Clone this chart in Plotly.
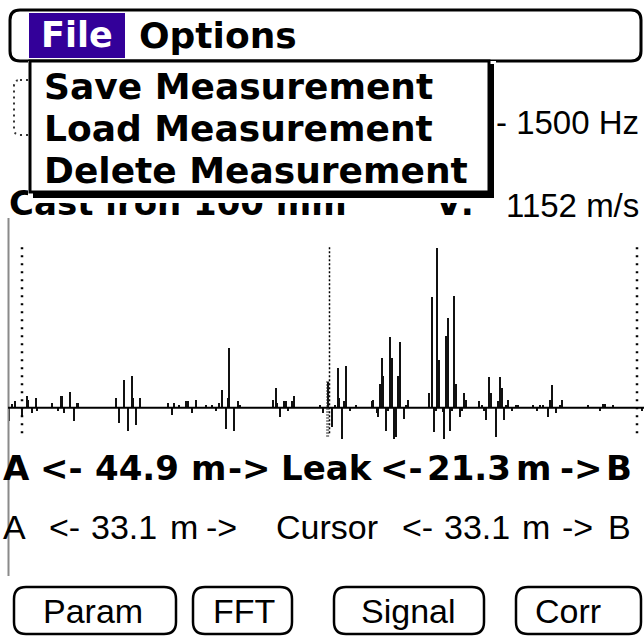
import plotly.graph_objects as go

# Leak correlator screen: correlation peaks along the pipe between sensors A and B.
# Position in metres from sensor A, amplitude in % of the strongest peak.
stem_pos_m = [
    -1.37, -1.08, -0.75, -0.03, 0.51, 0.65, 1.04, 1.47, 1.65, 3.20,
    3.91, 4.17, 4.31, 4.52, 5.17, 5.60, 5.89, 6.06, 10.09, 10.47,
    10.98, 11.38, 11.81, 11.98, 12.27, 12.70, 15.68, 16.11, 16.36, 16.93,
    17.62, 17.84, 18.27, 18.70, 19.81, 20.42, 20.88, 21.21, 21.50, 21.93,
    22.21, 22.31, 22.82, 23.22, 23.47, 26.99, 27.31, 27.48, 27.77, 28.20,
    28.42, 28.67, 29.10, 29.28, 32.08, 32.43, 32.94, 33.34, 33.69, 33.98,
    34.16, 34.41, 34.69, 34.88, 35.31, 35.95, 37.64, 37.81, 38.18, 38.35,
    38.54, 38.72, 38.89, 39.15, 39.36, 39.61, 39.80, 40.04, 40.26, 40.51,
    40.69, 41.12, 41.33, 41.58, 43.84, 44.10, 44.38, 44.53, 44.70, 44.92,
    45.29, 45.43, 45.61, 45.82, 46.07, 46.25, 46.50, 46.68, 47.15, 47.33,
    47.58, 47.79, 49.23, 49.48, 49.73, 49.91, 50.30, 50.48, 50.99, 51.27,
    51.45, 51.64, 51.88, 52.10, 52.35, 52.71, 53.18, 53.42, 55.04, 55.47,
    55.76, 56.05, 56.59, 56.84, 57.08, 57.45, 57.91, 58.16, 60.89, 62.22,
    62.51, 62.76, 63.65, 66.71,
]
stem_amp = [
    -8, 2.5, 4, -6, 7.5, 5, -3, 6, -2, 3,
    -2, 7.5, 7.5, -3, 10, -8, 3, 3, 6, -9.5,
    17.5, -14.5, 20, 6, -10.5, 6, 3, -4.5, 3, 1.5,
    4, 4, -3, 5, 1.5, 1.5, -2, 3, 11, -13,
    6, 37.5, -14.5, 4, 1.5, 5, 12.5, 3, -5.5, 4,
    4, -2, 4, 7.5, 2, -3, 16, -12, 1.5, 25,
    6, -19.5, 4, 26, -2, 1.5, 4, 5, -3, -6,
    15, 31, 20, -14.5, -2, 44, 31, -19.5, -18, 20,
    41, -7, 1.5, 5, 9, 69, -15, -2, 100, 30,
    -2.5, -19.5, 45, 56, -14.5, -2, 70, 15, -5.5, -2,
    9, 5, 4, 1.5, -2, -7.5, 19, 9, -18, 4,
    19, 12.5, -7.5, 1.5, 5, -2, 1.5, 1.5, 1.5, -2,
    1.5, 1.5, -5.5, 5, 14, -3, 1.5, 5, 1.5, -2,
    2.5, 2.5, 1.5, -2,
]

PIPE_NAME = "Cast iron 100 mm"
FREQ_HI_HZ = 1500
VELOCITY_MS = 1152
PIPE_LEN_M = 66.2
LEAK_FROM_A = 44.9
LEAK_FROM_B = 21.3
CURSOR_FROM_A = 33.1
CURSOR_FROM_B = 33.1

menu_titles = ["File", "Options"]
menu_items = ["Save Measurement", "Load Measurement", "Delete Measurement"]
button_labels = ["Param", "FFT", "Signal", "Corr"]

W, H = 644, 640
X_RANGE = [-2.368, 66.953]   # metres across the full screen width
Y_RANGE = [-145.19, 254.81]  # amplitude across the full screen height
BOLD = "DejaVu Sans"
PLAIN = "Liberation Sans, Arial, sans-serif"


def rrect(x0, y0, x1, y1, r):
    return (f"M{x0 + r},{y0} L{x1 - r},{y0} Q{x1},{y0} {x1},{y0 + r} "
            f"L{x1},{y1 - r} Q{x1},{y1} {x1 - r},{y1} L{x0 + r},{y1} "
            f"Q{x0},{y1} {x0},{y1 - r} L{x0},{y0 + r} Q{x0},{y0} {x0 + r},{y0} Z")


def px_shape(**kw):
    return dict(xref="x2", yref="y2", layer="above", **kw)


def label(text, x, y, size, bold=False, color="black", anchor="center"):
    return dict(text=f"<b>{text}</b>" if bold else text, x=x, y=y,
                xref="x2", yref="y2", xanchor=anchor, yanchor="middle",
                showarrow=False,
                font=dict(family=BOLD if bold else PLAIN, size=size, color=color))


def screen_x(px):
    return X_RANGE[0] + px / W * (X_RANGE[1] - X_RANGE[0])


def screen_y(py):
    return Y_RANGE[1] - py / H * (Y_RANGE[1] - Y_RANGE[0])


fig = go.Figure()

fig.add_trace(go.Bar(
    x=stem_pos_m, y=stem_amp, width=0.22,
    marker=dict(color="#111", line_width=0),
    hoverinfo="skip",
))

# labels partly hidden behind the open File menu (kept on the main plot so
# the menu shapes are drawn over them)
fig.add_trace(go.Scatter(
    x=[screen_x(9), screen_x(474)], y=[screen_y(206)] * 2, mode="text",
    text=[PIPE_NAME, "V:"], textposition=["middle right", "middle left"],
    textfont=dict(family=BOLD, size=34, color="black", weight="bold"),
    hoverinfo="skip",
))

shapes = [
    # dotted control behind the menu
    px_shape(type="path", path=rrect(14, 80, 80, 135, 6),
             line=dict(color="#333", width=2, dash="2px,4px")),
    # menu bar
    px_shape(type="path", path=rrect(10, 10, 641, 61, 10), fillcolor="white",
             line=dict(color="black", width=3)),
    px_shape(type="rect", x0=29, x1=125, y0=13, y1=58, fillcolor="#330099",
             line_width=0),
    # dropdown
    px_shape(type="rect", x0=28, x1=496, y0=61, y1=203, fillcolor="white",
             line_width=0),
    px_shape(type="rect", x0=33, x1=494, y0=64, y1=198, fillcolor="black",
             line_width=0),
    px_shape(type="rect", x0=30, x1=489, y0=61, y1=192, fillcolor="white",
             line=dict(color="black", width=3)),
    # left screen border
    px_shape(type="line", x0=8.5, x1=8.5, y0=218, y1=576,
             line=dict(color="#8a8a8a", width=2)),
    # correlation baseline
    dict(type="line", xref="x", yref="y", x0=-1.5, x1=67.2, y0=0, y1=0,
         layer="above", line=dict(color="black", width=2)),
]

# sensor A, cursor and sensor B markers
for xm, dash, wd in [(0, "2px,6px", 2.5), (CURSOR_FROM_A, "2px,2px", 1.5),
                     (PIPE_LEN_M, "2px,6px", 2.5)]:
    shapes.append(dict(type="line", xref="x", yref="y", x0=xm, x1=xm,
                       y0=-16, y1=100.5, layer="above",
                       line=dict(color="black", width=wd, dash=dash)))
shapes.append(dict(type="line", xref="x", yref="y", x0=CURSOR_FROM_A - 0.2,
                   x1=CURSOR_FROM_A - 0.2, y0=-18, y1=17, layer="above",
                   line=dict(color="#222", width=3, dash="1px,2px")))

# buttons
button_box = [(14, 176), (193, 292), (334, 484), (516, 641)]
for x0, x1 in button_box:
    shapes.append(px_shape(type="path", path=rrect(x0, 587, x1, 634, 12),
                           line=dict(color="black", width=2.5)))

ann = [
    label(menu_titles[0], 77, 35, 35, bold=True, color="white"),
    label(menu_titles[1], 218, 35, 36, bold=True),
]
for text, y in zip(menu_items, [86, 128, 170]):
    ann.append(label(text, 42, y, 36, bold=True, anchor="left"))

ann.append(label(f"- {FREQ_HI_HZ} Hz", 641, 122, 33, anchor="right"))
ann.append(label(f"{VELOCITY_MS} m/s", 641, 205, 33, anchor="right"))

row1 = ["A", "<-", f"{LEAK_FROM_A}", "m", "->", "Leak", "<-", f"{LEAK_FROM_B}",
        "m", "->", "B"]
row1_x = [16.5, 61.5, 136.5, 208, 249, 326.5, 401.5, 468.5, 533.5, 581.5, 618.5]
for t, x in zip(row1, row1_x):
    ann.append(label(t, x, 468, 34, bold=True))

row2 = ["A", "<-", f"{CURSOR_FROM_A}", "m", "->", "Cursor", "<-",
        f"{CURSOR_FROM_B}", "m", "->", "B"]
row2_x = [14.5, 64.5, 124, 183.5, 221.5, 327, 417.5, 477, 536, 577, 619]
for t, x in zip(row2, row2_x):
    ann.append(label(t, x, 527, 34))

for t, x in zip(button_labels, [93, 244, 408, 568]):
    ann.append(label(t, x, 611, 34))

fig.update_layout(
    width=W, height=H, margin=dict(l=0, r=0, t=0, b=0),
    paper_bgcolor="white", plot_bgcolor="white",
    showlegend=False, bargap=0,
    xaxis=dict(range=X_RANGE, visible=False),
    yaxis=dict(range=Y_RANGE, visible=False),
    xaxis2=dict(range=[0, W], overlaying="x", visible=False),
    yaxis2=dict(range=[H, 0], overlaying="y", visible=False),
    shapes=shapes, annotations=ann,
)

# the page's default 8px body margin would push the screen off the window
fig.write_html("out.html", config={"displayModeBar": False},
               post_script="document.body.style.margin = '0';")
